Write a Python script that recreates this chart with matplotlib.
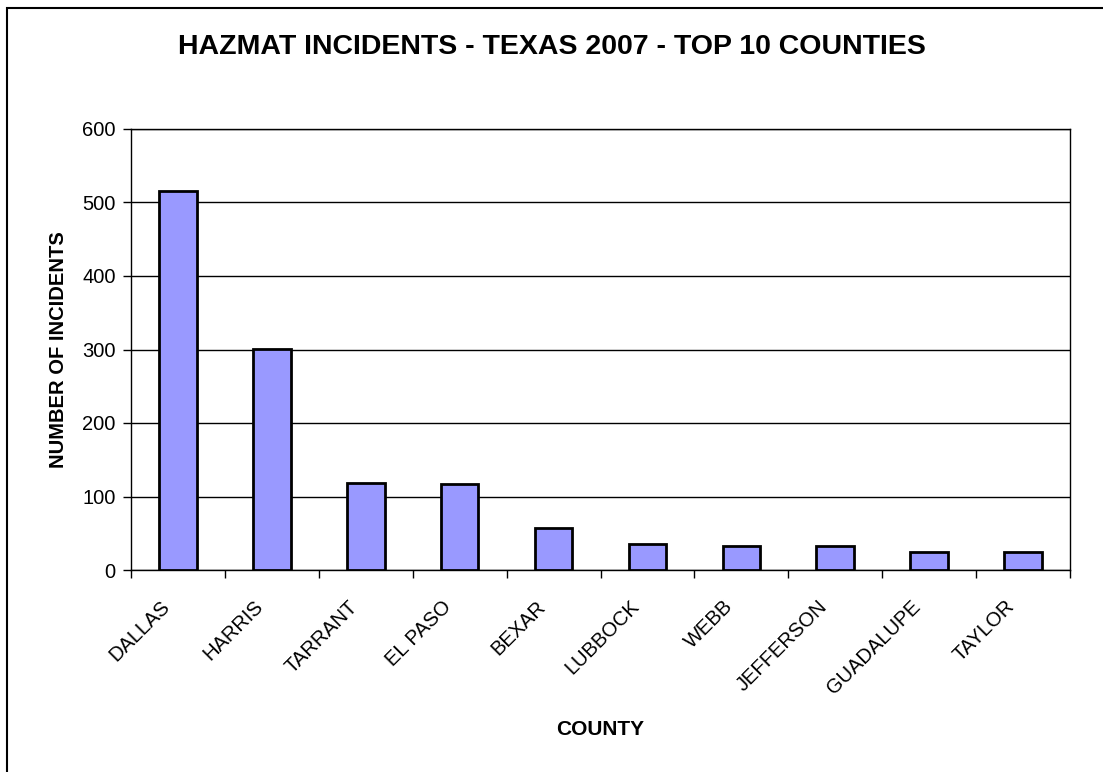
import matplotlib
matplotlib.use("Agg")
import matplotlib.pyplot as plt
import matplotlib.transforms as mtransforms
from matplotlib.patches import Rectangle

# ==============================
# Data
# ==============================

counties = ["DALLAS", "HARRIS", "TARRANT", "EL PASO", "BEXAR",
            "LUBBOCK", "WEBB", "JEFFERSON", "GUADALUPE", "TAYLOR"]
incidents = [515, 301, 118, 117, 57, 36, 33, 32, 24, 24]
y_ticks = [0, 100, 200, 300, 400, 500, 600]

plt.rcParams["font.family"] = ["Liberation Sans", "DejaVu Sans"]

# ==============================
# Plot
# ==============================

fig = plt.figure(figsize=(11.03, 7.72), dpi=100)
ax = fig.add_axes([131 / 1103, 1 - 570 / 772, 939 / 1103, 441 / 772])

x = list(range(len(counties)))
ax.bar(x, incidents, width=0.4, color="#9999FF", edgecolor="black",
       linewidth=2, zorder=3)

ax.set_xlim(-0.5, len(counties) - 0.5)
ax.set_ylim(0, 600)
ax.set_yticks(y_ticks)
ax.yaxis.grid(True, color="black", linewidth=1, zorder=0)

ax.set_xticks(x)
ax.set_xticklabels(counties, rotation=45, ha="right", rotation_mode="anchor",
                   fontsize=14.5)
ax.set_xticks([i + 0.5 for i in range(-1, len(counties))], minor=True)
ax.tick_params(axis="x", which="major", length=0, pad=19.5)
ax.tick_params(axis="x", which="minor", length=6, width=1, color="black")
ax.tick_params(axis="y", length=6, width=1, labelsize=14.5, pad=5)

# nudge rotated labels left so they end just left of the category centre
shift = mtransforms.ScaledTranslation(-18 / 100, 0, fig.dpi_scale_trans)
for lbl in ax.get_xticklabels():
    lbl.set_transform(lbl.get_transform() + shift)

for side in ["top", "right", "left", "bottom"]:
    ax.spines[side].set_color("black")
    ax.spines[side].set_linewidth(1)

ax.set_xlabel("COUNTY", fontsize=15, fontweight="bold", labelpad=16)
ax.set_ylabel("NUMBER OF INCIDENTS", fontsize=14.5, fontweight="bold",
              labelpad=10)
fig.text(0.5, 1 - 47 / 772, "HAZMAT INCIDENTS - TEXAS 2007 - TOP 10 COUNTIES",
         ha="center", va="center", fontsize=20.5, fontweight="bold")

# outer chart frame (runs off the right and bottom edges)
fig.patches.append(Rectangle((7 / 1103, -0.02), 1.05, 1 - 8 / 772 + 0.02,
                             transform=fig.transFigure, fill=False,
                             edgecolor="black", linewidth=1.5))

fig.savefig("out.png", dpi=100)
